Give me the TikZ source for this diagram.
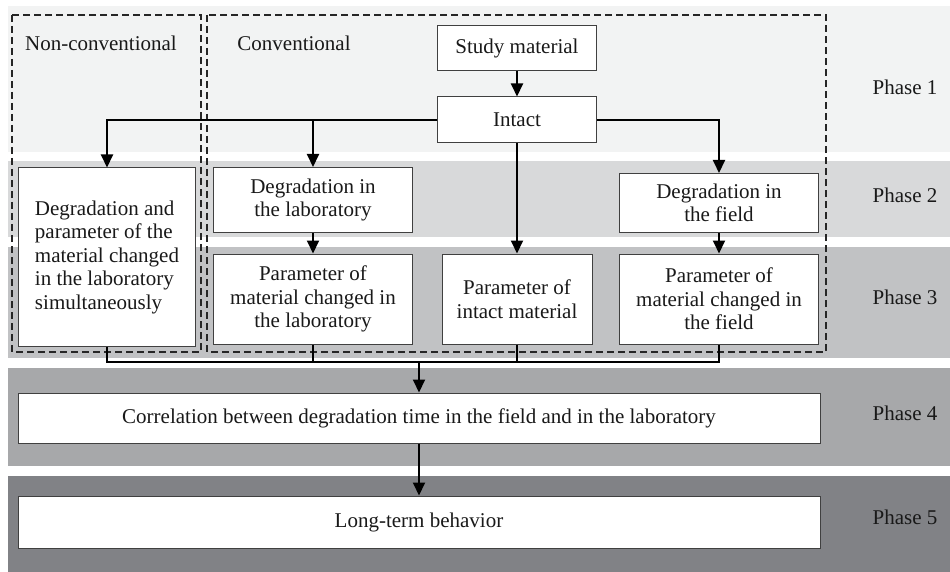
\documentclass[tikz,border=0pt]{standalone}
\usepackage{fontspec}
\setmainfont{Liberation Serif}
\usetikzlibrary{arrows.meta}

\definecolor{phaseone}{HTML}{F2F3F3}
\definecolor{phasetwo}{HTML}{D8D9DA}
\definecolor{phasethree}{HTML}{C1C2C4}
\definecolor{phasefour}{HTML}{A7A8AA}
\definecolor{phasefive}{HTML}{818286}

\begin{document}
\begin{tikzpicture}[x=1pt,y=-1pt,
  txt/.style={font=\fontsize{21}{23.5}\selectfont, text=black!90},
  box/.style={txt, draw=black!75, line width=1pt, fill=white, align=center, inner sep=0pt},
  arr/.style={line width=2pt, -{Triangle[length=13pt,width=12pt]}},
  link/.style={line width=2pt},
  group/.style={draw=black!85, line width=1.4pt, dash pattern=on 7pt off 4pt}]

\useasboundingbox (0,0) rectangle (950,572);

% Phase bands
\fill[phaseone] (8,6) rectangle (950,152);
\fill[phasetwo] (8,161) rectangle (950,237);
\fill[phasethree] (8,247) rectangle (950,358);
\fill[phasefour] (8,368) rectangle (950,466);
\fill[phasefive] (8,476) rectangle (950,572);

% Phase labels
\node[txt] (ph1) at (905,87) {Phase 1};
\node[txt] (ph2) at (905,195) {Phase 2};
\node[txt] (ph3) at (905,297) {Phase 3};
\node[txt] (ph4) at (905,413) {Phase 4};
\node[txt] (ph5) at (905,517) {Phase 5};

% Method groups
\draw[group] (12,15) rectangle (201,352);
\draw[group] (207,15) rectangle (826,352);
\node[txt] (labnonconv) at (101,43) {Non-conventional};
\node[txt] (labconv) at (294,43) {Conventional};

% Boxes
\node[box, minimum width=159pt, minimum height=45pt] (study) at (517,48) {Study material};
\node[box, minimum width=159pt, minimum height=46pt] (intact) at (517,120) {Intact};

\node[box, align=left, minimum width=177pt, minimum height=178pt] (nonconv) at (107,257)
  {Degradation and\\parameter of the\\material changed\\in the laboratory\\simultaneously};
\node[box, minimum width=199pt, minimum height=65pt] (deglab) at (313,200)
  {Degradation in\\the laboratory};
\node[box, minimum width=199pt, minimum height=59pt] (degfield) at (719,203)
  {Degradation in\\the field};

\node[box, minimum width=199pt, minimum height=90pt] (parlab) at (313,299)
  {Parameter of\\material changed in\\the laboratory};
\node[box, minimum width=150pt, minimum height=90pt] (parintact) at (517,299)
  {Parameter of\\intact material};
\node[box, minimum width=199pt, minimum height=90pt] (parfield) at (719,299)
  {Parameter of\\material changed in\\the field};

\node[box, minimum width=802pt, minimum height=50pt] (corr) at (419,418)
  {Correlation between degradation time in the field and in the laboratory};
\node[box, minimum width=802pt, minimum height=52pt] (longterm) at (419,522)
  {Long-term behavior};

% Connectors
\draw[arr] (study) -- (intact);
\draw[arr] (intact.west) -| (nonconv.north);
\draw[arr] (intact.west) -| (deglab.north);
\draw[arr] (intact.east) -| (degfield.north);
\draw[arr] (intact) -- (parintact);
\draw[arr] (deglab) -- (parlab);
\draw[arr] (degfield) -- (parfield);

\coordinate (merge) at (419,362);
\draw[link] (nonconv.south) |- (merge) -| (parfield.south);
\draw[link] (parlab.south) -- (parlab.south |- merge);
\draw[link] (parintact.south) -- (parintact.south |- merge);
\draw[arr] (merge) -- (corr);
\draw[arr] (corr) -- (longterm);

\end{tikzpicture}
\end{document}
